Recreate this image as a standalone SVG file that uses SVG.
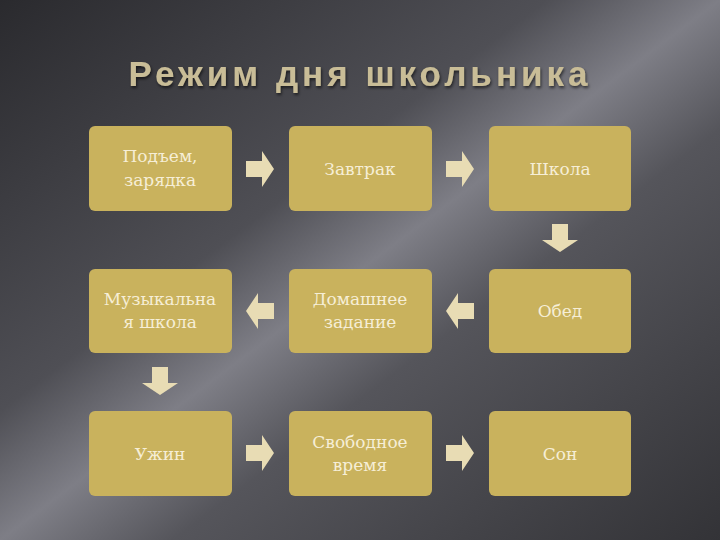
<svg xmlns="http://www.w3.org/2000/svg" width="720" height="540" viewBox="0 0 720 540">
<defs>
<linearGradient id="bg" x1="0" y1="0" x2="1" y2="1">
<stop offset="0" stop-color="#2a2a2e"/>
<stop offset="0.38" stop-color="#4f4f55"/>
<stop offset="0.5" stop-color="#7e7e86"/>
<stop offset="0.62" stop-color="#55555b"/>
<stop offset="1" stop-color="#333337"/>
</linearGradient>
<filter id="sh" x="-10%" y="-10%" width="120%" height="130%"><feDropShadow dx="1" dy="2" stdDeviation="1.5" flood-color="#000" flood-opacity="0.6"/></filter>
<polygon id="ar" points="-14,-8 2,-8 2,-18 14,0 2,18 2,8 -14,8"/>
</defs>
<style>
.box{fill:#c9b25d}
.t{font-family:"DejaVu Serif","Liberation Serif",serif;font-size:17px;fill:#f6eed6;text-anchor:middle}
.a{fill:#e8dcb4}
</style>
<rect width="720" height="540" fill="url(#bg)"/>
<text x="360" y="86" font-family="Liberation Sans,sans-serif" font-weight="bold" font-size="35" letter-spacing="4" fill="#c9bd97" text-anchor="middle" filter="url(#sh)">Режим дня школьника</text>
<g id="n1"><rect class="box" x="89" y="126" width="143" height="85" rx="6"/><text class="t" x="160" y="162">Подъем,</text><text class="t" x="160" y="186">зарядка</text></g>
<g id="n2"><rect class="box" x="289" y="126" width="143" height="85" rx="6"/><text class="t" x="360" y="175">Завтрак</text></g>
<g id="n3"><rect class="box" x="489" y="126" width="142" height="85" rx="6"/><text class="t" x="560" y="175">Школа</text></g>
<g id="n4"><rect class="box" x="489" y="269" width="142" height="84" rx="6"/><text class="t" x="560" y="317">Обед</text></g>
<g id="n5"><rect class="box" x="289" y="269" width="143" height="84" rx="6"/><text class="t" x="360" y="305">Домашнее</text><text class="t" x="360" y="328">задание</text></g>
<g id="n6"><rect class="box" x="89" y="269" width="143" height="84" rx="6"/><text class="t" x="160" y="305">Музыкальна</text><text class="t" x="160" y="328">я школа</text></g>
<g id="n7"><rect class="box" x="89" y="411" width="143" height="85" rx="6"/><text class="t" x="160" y="460">Ужин</text></g>
<g id="n8"><rect class="box" x="289" y="411" width="143" height="85" rx="6"/><text class="t" x="360" y="448">Свободное</text><text class="t" x="360" y="471">время</text></g>
<g id="n9"><rect class="box" x="489" y="411" width="142" height="85" rx="6"/><text class="t" x="560" y="460">Сон</text></g>
<g id="connectors" class="a">
<use href="#ar" transform="translate(260,169)"/>
<use href="#ar" transform="translate(460,169)"/>
<use href="#ar" transform="translate(560,238) rotate(90)"/>
<use href="#ar" transform="translate(460,311) rotate(180)"/>
<use href="#ar" transform="translate(260,311) rotate(180)"/>
<use href="#ar" transform="translate(160,381) rotate(90)"/>
<use href="#ar" transform="translate(260,453)"/>
<use href="#ar" transform="translate(460,453)"/>
</g>
</svg>
